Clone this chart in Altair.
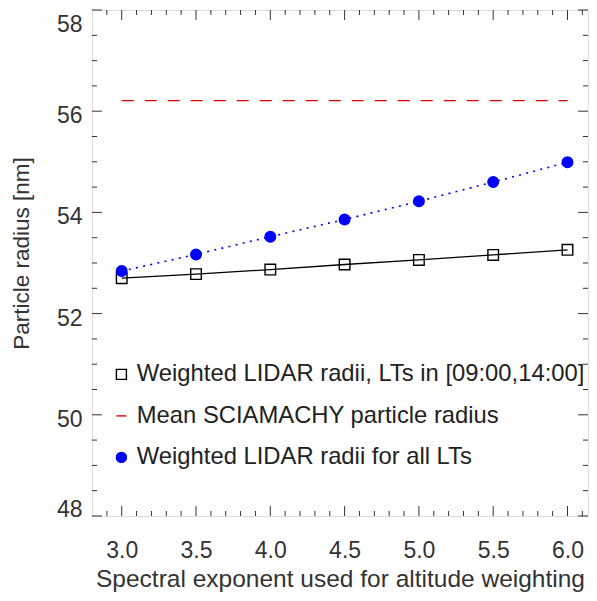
import altair as alt
import pandas as pd

# ---------------- data ----------------
exponent = [3.0, 3.5, 4.0, 4.5, 5.0, 5.5, 6.0]
radius_lt_window = [52.70, 52.78, 52.87, 52.97, 53.06, 53.16, 53.26]
radius_all_lt = [52.84, 53.17, 53.52, 53.86, 54.22, 54.60, 54.99]
sciamachy_mean = 56.21

series_names = [
    "Weighted LIDAR radii, LTs in [09:00,14:00]",
    "Mean SCIAMACHY particle radius",
    "Weighted LIDAR radii for all LTs",
]

x_major = [3.0, 3.5, 4.0, 4.5, 5.0, 5.5, 6.0]
x_minor = [2.9, 3.1, 3.2, 3.3, 3.4, 3.6, 3.7, 3.8, 3.9, 4.1, 4.2, 4.3, 4.4,
           4.6, 4.7, 4.8, 4.9, 5.1, 5.2, 5.3, 5.4, 5.6, 5.7, 5.8, 5.9, 6.1]
y_major = [48, 50, 52, 54, 56, 58]
y_minor = [48.5, 49, 49.5, 50.5, 51, 51.5, 52.5, 53, 53.5, 54.5, 55, 55.5,
           56.5, 57, 57.5]

# ---------------- style ----------------
W, H = 496, 506
FONT = "Liberation Sans"
TXT = "#333333"
TICK = "#333333"

df_a = pd.DataFrame({"x": exponent, "y": radius_lt_window, "series": series_names[0]})
df_c = pd.DataFrame({"x": exponent, "y": radius_all_lt, "series": series_names[2]})
df_pts = pd.concat([df_a, df_c], ignore_index=True)
df_b = pd.DataFrame({"x": [min(exponent)], "x2": [max(exponent)], "y": [sciamachy_mean]})

xs = alt.Scale(domain=[2.8, 6.138], nice=False, zero=False)
ys = alt.Scale(domain=[48, 58], nice=False, zero=False)

x_axis = alt.Axis(values=x_major, format=".1f", ticks=False, domain=False, grid=False,
                  labelFontSize=23, labelPadding=23.5, labelColor=TXT, labelFont=FONT,
                  title="Spectral exponent used for altitude weighting",
                  titleFontSize=24.5, titleFont=FONT, titleColor=TXT, titleFontWeight="normal",
                  titleBaseline="alphabetic", titleY=70, titleAnchor="middle")
y_axis = alt.Axis(values=y_major, format="d", ticks=False, domain=False, grid=False,
                  labelFontSize=23, labelPadding=10, labelColor=TXT, labelFont=FONT,
                  labelOffset={"condition": [{"test": "datum.value == 58", "value": 14.5},
                                             {"test": "datum.value == 48", "value": -6.5}],
                               "value": 4.5},
                  title="Particle radius [nm]",
                  titleFontSize=22.5, titleFont=FONT, titleColor=TXT, titleFontWeight="normal",
                  titleBaseline="alphabetic", titleAlign="center", titleAngle=270,
                  titleX=-63.5, titleY=243)

X = alt.X("x:Q", scale=xs, axis=x_axis)
Y = alt.Y("y:Q", scale=ys, axis=y_axis)

legend = alt.Legend(title=None, orient="none", legendX=17.5, legendY=352.5, padding=0,
                    labelFontSize=23.8, labelFont=FONT, labelColor="#222222", labelLimit=600,
                    labelOffset=3.5, rowPadding=16.5, symbolSize=100, symbolStrokeWidth=1.4)

line_a = alt.Chart(df_a).mark_line(color="black", strokeWidth=1.3).encode(x=X, y=Y)
line_c = alt.Chart(df_c).mark_line(color="#0000ff", strokeWidth=1.6, strokeDash=[2, 5.3]).encode(x=X, y=Y)
rule_b = alt.Chart(df_b).mark_rule(color="#e00000", strokeWidth=1.3, strokeDash=[12, 11]).encode(
    x=X, x2="x2:Q", y=Y)
points = alt.Chart(df_pts).mark_point(size=112, strokeWidth=1.4, opacity=1).encode(
    x=X, y=Y,
    shape=alt.Shape("series:N", scale=alt.Scale(domain=series_names,
                                                 range=["square", "M-1,0H1", "circle"]), legend=legend),
    stroke=alt.Stroke("series:N", scale=alt.Scale(domain=series_names,
                                                   range=["black", "#e00000", "#0000ff"]), legend=legend),
    fill=alt.Fill("series:N", scale=alt.Scale(domain=series_names,
                                               range=["transparent", "transparent", "#0000ff"]), legend=legend),
)

# inward ticks on all four sides
df_xmaj = pd.DataFrame({"x": x_major})
df_xmin = pd.DataFrame({"x": x_minor})
df_ymaj = pd.DataFrame({"y": y_major})
df_ymin = pd.DataFrame({"y": y_minor})

def xticks(df, length):
    bottom = alt.Chart(df).mark_rule(color=TICK, strokeWidth=1).encode(
        x=X, y=alt.value(H), y2=alt.value(H - length))
    top = alt.Chart(df).mark_rule(color=TICK, strokeWidth=1).encode(
        x=X, y=alt.value(0), y2=alt.value(length))
    return [bottom, top]

def yticks(df, length):
    left = alt.Chart(df).mark_rule(color=TICK, strokeWidth=1).encode(
        y=Y, x=alt.value(0), x2=alt.value(length))
    right = alt.Chart(df).mark_rule(color=TICK, strokeWidth=1).encode(
        y=Y, x=alt.value(W), x2=alt.value(W - length))
    return [left, right]

layers = (xticks(df_xmaj, 10) + xticks(df_xmin, 5) + yticks(df_ymaj, 10) + yticks(df_ymin, 5)
          + [line_a, line_c, rule_b, points])

chart = alt.layer(*layers).properties(
    width=W, height=H,
    autosize=alt.AutoSizeParams(type="none"),
    padding={"left": 84, "top": 2, "right": 1, "bottom": 76},
).configure_view(stroke="#222222", strokeWidth=1.4).configure(background="white")

chart.save("out.html", embed_options={"renderer": "svg", "actions": False})
